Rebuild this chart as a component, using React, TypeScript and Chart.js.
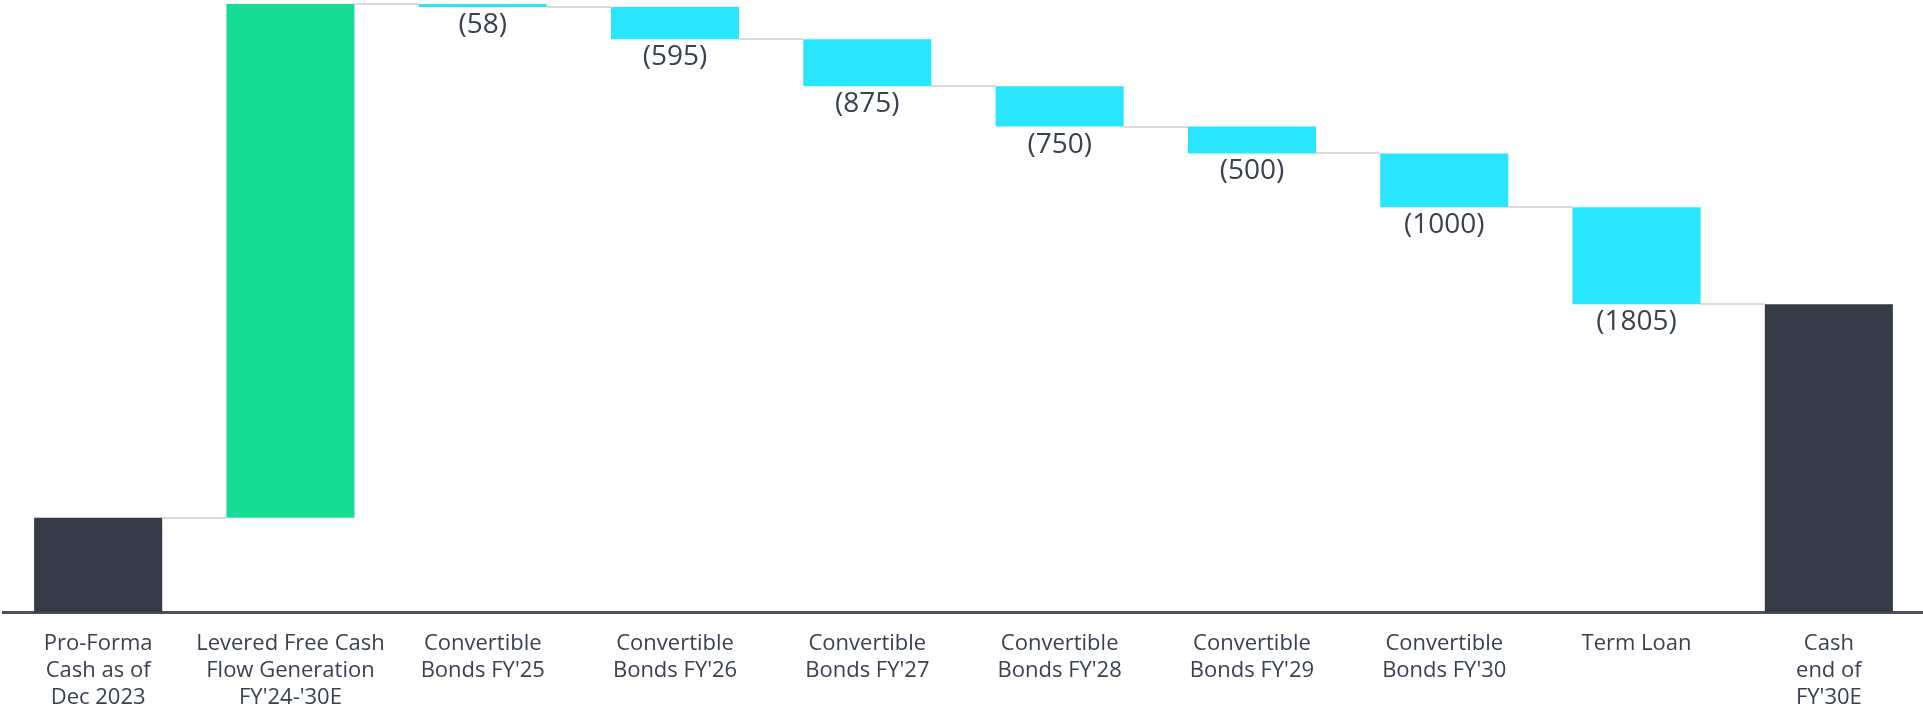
import React, { useEffect, useRef } from 'react';
import { Chart, registerables, Plugin } from 'chart.js';

Chart.register(...registerables);

// categories (multi-line tick labels)
const categories: string[][] = [
  ['Pro-Forma', 'Cash as of', 'Dec 2023'],
  ['Levered Free Cash', 'Flow Generation', "FY'24-'30E"],
  ['Convertible', "Bonds FY'25"],
  ['Convertible', "Bonds FY'26"],
  ['Convertible', "Bonds FY'27"],
  ['Convertible', "Bonds FY'28"],
  ['Convertible', "Bonds FY'29"],
  ['Convertible', "Bonds FY'30"],
  ['Term Loan'],
  ['Cash', 'end of', "FY'30E"],
];

// step values (start, inflow, outflows); the last bar is the running total
const startCash = 1760;
const inflows = [9550];
const outflows = [-58, -595, -875, -750, -500, -1000, -1805];

// bar kinds: total / up / down
const kinds = ['total', 'up', 'down', 'down', 'down', 'down', 'down', 'down', 'down', 'total'];

const colors: Record<string, string> = {
  total: '#343a46',
  up: '#17dc94',
  down: '#29e6fe',
};

const textColor = '#3a4150';
const FONT = '"Open Sans", "Noto Sans", sans-serif';

// build floating ranges for the waterfall
const steps = [...inflows, ...outflows];
const ranges: [number, number][] = [];
let running = startCash;
ranges.push([0, startCash]);
steps.forEach(s => {
  const next = running + s;
  ranges.push([Math.min(running, next), Math.max(running, next)]);
  running = next;
});
ranges.push([0, running]);
const levels: number[] = [startCash];
steps.forEach((s, i) => levels.push(levels[i] + s));

const connectorPlugin: Plugin<'bar'> = {
  id: 'connectors',
  beforeDatasetsDraw(chart) {
    const { ctx } = chart;
    const meta = chart.getDatasetMeta(0);
    const y = chart.scales.y;
    ctx.save();
    ctx.strokeStyle = '#d9d9d9';
    ctx.lineWidth = 2;
    for (let i = 0; i < meta.data.length - 1; i++) {
      const a = meta.data[i] as any;
      const b = meta.data[i + 1] as any;
      const py = Math.round(y.getPixelForValue(levels[i]));
      ctx.beginPath();
      ctx.moveTo(a.x + a.width / 2, py);
      ctx.lineTo(b.x - b.width / 2, py);
      ctx.stroke();
    }
    ctx.restore();
  },
};

const valueLabelPlugin: Plugin<'bar'> = {
  id: 'valueLabels',
  afterDatasetsDraw(chart) {
    const { ctx } = chart;
    const meta = chart.getDatasetMeta(0);
    const y = chart.scales.y;
    ctx.save();
    ctx.fillStyle = textColor;
    ctx.font = `28px ${FONT}`;
    ctx.textAlign = 'center';
    ctx.textBaseline = 'middle';
    outflows.forEach((v, i) => {
      const idx = i + 1 + inflows.length;
      const bar = meta.data[idx] as any;
      const bottom = y.getPixelForValue(ranges[idx][0]);
      ctx.fillText(`(${Math.abs(v)})`, bar.x, bottom + 18);
    });
    ctx.restore();
  },
};

const WaterfallChart = () => {
  const chartRef = useRef<HTMLCanvasElement>(null);
  const chartInstance = useRef<Chart | null>(null);

  useEffect(() => {
    document.body.style.margin = '0';
    document.body.style.overflow = 'hidden';
    if (!chartRef.current) return;
    const ctx = chartRef.current.getContext('2d');
    if (!ctx) return;

    if (chartInstance.current) {
      chartInstance.current.destroy();
      chartInstance.current = null;
    }

    const maxVal = Math.max(...ranges.map(r => r[1]));

    chartInstance.current = new Chart(ctx, {
      type: 'bar',
      data: {
        labels: categories,
        datasets: [{
          data: ranges as any,
          backgroundColor: kinds.map(k => colors[k]),
          borderWidth: 0,
          borderSkipped: false,
          barPercentage: 0.666,
          categoryPercentage: 1,
        }],
      },
      options: {
        animation: false,
        responsive: true,
        maintainAspectRatio: false,
        layout: { padding: { top: 4, left: 0, right: 0, bottom: 0 } },
        plugins: {
          legend: { display: false },
          tooltip: { enabled: false },
        },
        scales: {
          x: {
            grid: { display: false },
            border: { display: true, color: '#4b515c', width: 3 },
            ticks: {
              color: textColor,
              font: { family: FONT, size: 22, lineHeight: 1.22 },
              padding: 10,
              maxRotation: 0,
              autoSkip: false,
            },
          },
          y: {
            display: false,
            min: 0,
            max: maxVal,
          },
        },
      },
      plugins: [connectorPlugin, valueLabelPlugin],
    });

    return () => {
      if (chartInstance.current) {
        chartInstance.current.destroy();
        chartInstance.current = null;
      }
    };
  }, []);

  return (
    <div style={{ position: 'fixed', left: 2, top: 0, width: 1923, height: 721 }}>
      <canvas ref={chartRef} />
    </div>
  );
};

export default function App() {
  return <WaterfallChart />;
}
